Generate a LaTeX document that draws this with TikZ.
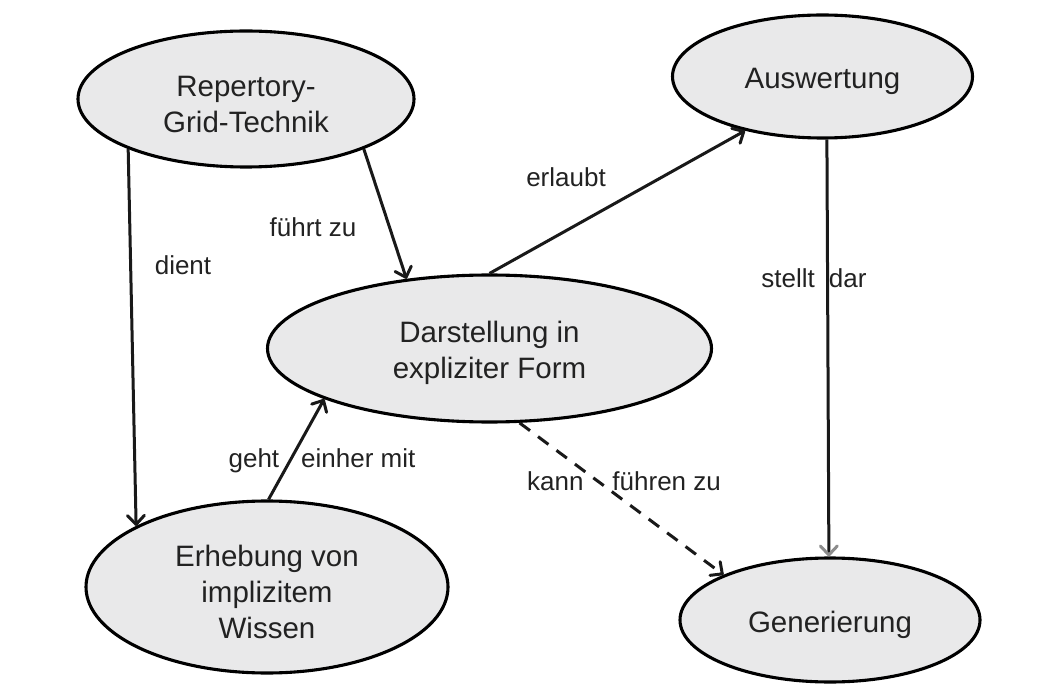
\documentclass[tikz,border=0pt]{standalone}
\usepackage{fontspec}
\setmainfont{Liberation Sans}
\usetikzlibrary{arrows.meta,shapes.geometric}
\definecolor{nodefill}{HTML}{E9E9EA}
\definecolor{txt}{HTML}{222222}
\newcommand{\lowertext}{\rule{0pt}{31pt}}
\begin{document}
\begin{tikzpicture}[x=1pt,y=-1pt,
  concept/.style={ellipse, draw=black, line width=3.1pt, fill=nodefill, inner sep=0pt,
    align=center, font=\fontsize{29.5}{36}\selectfont, text=txt},
  rel/.style={line width=3pt, draw=black!90, -{Straight Barb[length=9pt,width=17pt,round]}},
  lbl/.style={font=\fontsize{26}{31}\selectfont, text=txt, inner sep=0pt}]
\useasboundingbox (0,0) rectangle (1052,692);

\node[concept, minimum width=336pt, minimum height=136pt] (rep) at (246,99) {\lowertext Repertory-\\Grid-Technik};
\node[concept, minimum width=300pt, minimum height=123pt] (aus) at (822.5,76.5) {\lowertext Auswertung};
\node[concept, minimum width=444pt, minimum height=147pt] (dar) at (489.5,348.5) {\lowertext Darstellung in\\expliziter Form};
\node[concept, minimum width=362pt, minimum height=172pt] (erh) at (267,587) {\lowertext Erhebung von\\implizitem\\Wissen};
\node[concept, minimum width=300pt, minimum height=124pt] (gen) at (830,620) {\lowertext Generierung};

\draw[rel] (rep.203.4) -- (erh.155.4);
\draw[rel] (rep.337.6) -- (dar.140.2);
\draw[rel] (dar.90) -- (aus.215.4);
\draw[line width=3pt, draw=black!90, -{Straight Barb[length=9pt,width=17pt,round,color=black!45]}] (aus.274.2) -- (gen.91);
\draw[rel] (erh.89.5) -- (dar.197.6);
\draw[rel, dash pattern=on 13pt off 10pt] (dar.292.8) -- (gen.157.8);

\node[lbl] (l1) at (183,265) {dient};
\node[lbl] (l2) at (313,227) {führt zu};
\node[lbl] (l3) at (566,177) {erlaubt};
\node[lbl] (l4) at (814,278) {stellt\hspace{14pt}dar};
\node[lbl] (l5) at (322,461) {geht\hspace{22pt}einher mit};
\node[lbl] (l6) at (624,481) {kann\hspace{29pt}führen zu};
\end{tikzpicture}
\end{document}
